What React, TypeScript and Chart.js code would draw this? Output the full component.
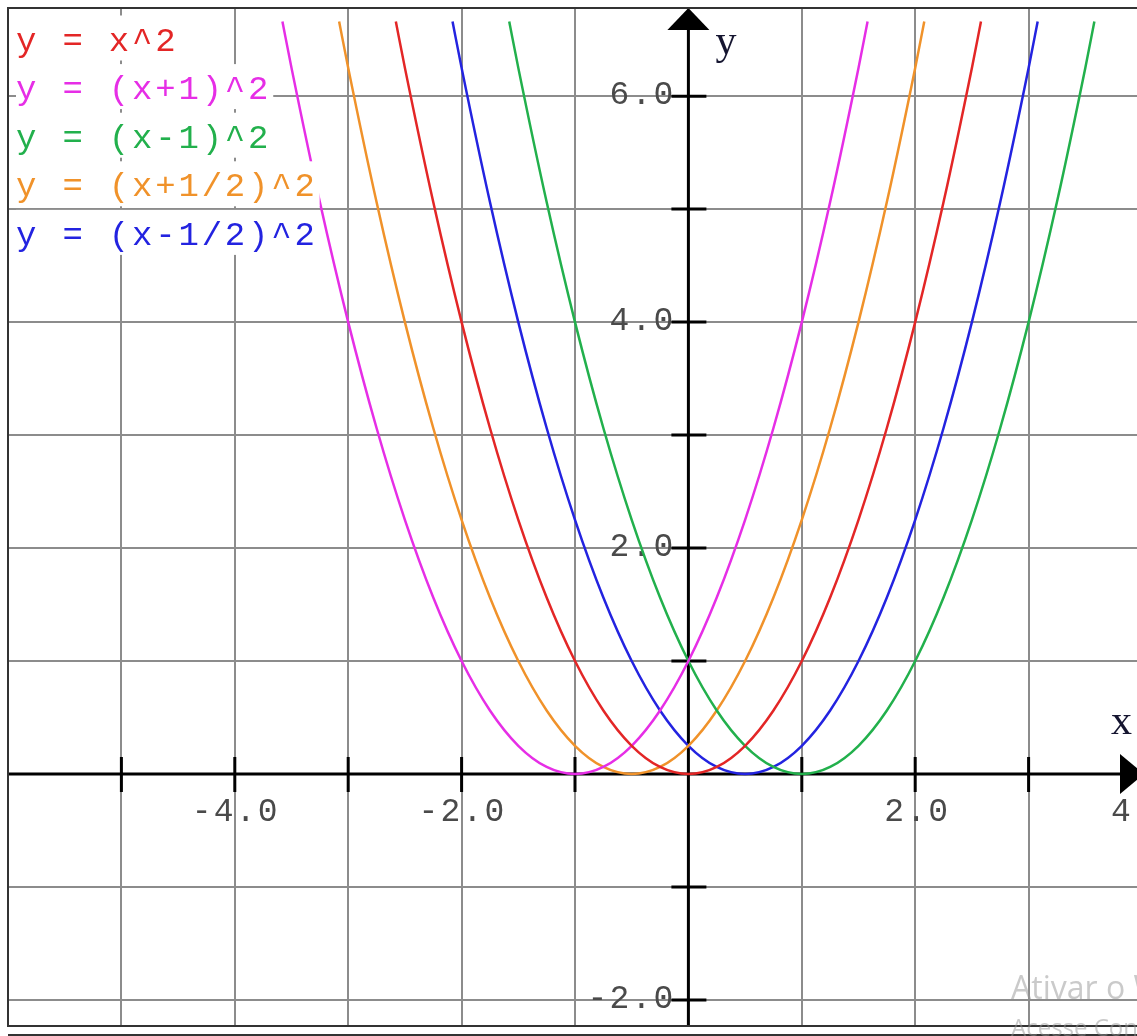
import { useEffect, useRef } from "react";
import { Chart, registerables } from "chart.js";

Chart.register(...registerables);

// Five parabolas y = (x - h)^2, each traced from the same table of offsets
// around its vertex h.
const seriesLabels = ["y = x^2", "y = (x+1)^2", "y = (x-1)^2", "y = (x+1/2)^2", "y = (x-1/2)^2"];
const seriesVertexX = [0, -1, 1, -0.5, 0.5];
const seriesColors = ["#e32626", "#e62ee6", "#22b04c", "#f0922a", "#2323e0"];

const offsetsFromVertex = [
  -2.58, -2.5, -2.25, -2, -1.75, -1.5, -1.25, -1, -0.75, -0.5, -0.25, 0,
  0.25, 0.5, 0.75, 1, 1.25, 1.5, 1.75, 2, 2.25, 2.5, 2.58,
];
const squaredValues = [
  6.66, 6.25, 5.0625, 4, 3.0625, 2.25, 1.5625, 1, 0.5625, 0.25, 0.0625, 0,
  0.0625, 0.25, 0.5625, 1, 1.5625, 2.25, 3.0625, 4, 5.0625, 6.25, 6.66,
];

// View window and grid
const xMin = -6;
const xMax = 4;
const yMin = -2.23;
const yMax = 6.78;
const xGridValues = [-6, -5, -4, -3, -2, -1, 0, 1, 2, 3, 4];
const yGridValues = [-2, -1, 0, 1, 2, 3, 4, 5, 6];
const xTickMarks = [-5, -4, -3, -2, -1, 1, 2, 3];
const yTickMarks = [-2, -1, 1, 2, 3, 4, 5, 6];
const xTickValues = [-4, -2, 2, 4];
const xTickLabels = ["-4.0", "-2.0", " 2.0", " 4.0"];
const yTickValues = [-2, 2, 4, 6];
const yTickLabels = ["-2.0", " 2.0", " 4.0", " 6.0"];

const MONO = '"Liberation Mono", "Courier New", monospace';
const SERIF = '"Liberation Serif", "Times New Roman", serif';

const axesPlugin = {
  id: "axesPlugin",
  beforeDatasetsDraw(chart: any) {
    const { ctx, chartArea } = chart;
    const xs = chart.scales.x;
    const ys = chart.scales.y;
    const x0 = xs.getPixelForValue(0);
    const y0 = ys.getPixelForValue(0);
    ctx.save();
    ctx.strokeStyle = "#000";
    ctx.fillStyle = "#000";
    ctx.lineWidth = 3;
    ctx.beginPath();
    ctx.moveTo(chartArea.left, y0);
    ctx.lineTo(chartArea.right - 18, y0);
    ctx.moveTo(x0, chartArea.bottom);
    ctx.lineTo(x0, chartArea.top + 18);
    ctx.stroke();

    // tick marks
    ctx.beginPath();
    for (const v of xTickMarks) {
      const px = xs.getPixelForValue(v);
      ctx.moveTo(px, y0 - 17);
      ctx.lineTo(px, y0 + 18);
    }
    for (const v of yTickMarks) {
      const py = ys.getPixelForValue(v);
      ctx.moveTo(x0 - 17, py);
      ctx.lineTo(x0 + 18, py);
    }
    ctx.stroke();

    // arrow heads
    ctx.beginPath();
    ctx.moveTo(x0, chartArea.top);
    ctx.lineTo(x0 - 21, chartArea.top + 22);
    ctx.lineTo(x0 + 21, chartArea.top + 22);
    ctx.closePath();
    ctx.fill();
    ctx.beginPath();
    ctx.moveTo(chartArea.right + 2, y0);
    ctx.lineTo(chartArea.right - 22, y0 - 20);
    ctx.lineTo(chartArea.right - 22, y0 + 20);
    ctx.closePath();
    ctx.fill();

    // tick labels
    ctx.fillStyle = "#4a4a4a";
    ctx.font = `33px ${MONO}`;
    ctx.letterSpacing = "2.2px";
    ctx.textAlign = "center";
    ctx.textBaseline = "middle";
    xTickValues.forEach((v, i) => {
      const shift = v > 0 ? -9 : 1;
      ctx.fillText(xTickLabels[i], xs.getPixelForValue(v) + shift, y0 + 38);
    });
    ctx.textAlign = "right";
    yTickValues.forEach((v, i) => {
      ctx.fillText(yTickLabels[i], x0 - 13, ys.getPixelForValue(v) - 1);
    });
    ctx.restore();
  },
  afterDatasetsDraw(chart: any) {
    const { ctx, chartArea } = chart;
    const xs = chart.scales.x;
    const ys = chart.scales.y;
    const x0 = xs.getPixelForValue(0);
    const y0 = ys.getPixelForValue(0);
    ctx.save();

    // axis names
    ctx.fillStyle = "#151530";
    ctx.font = `42px ${SERIF}`;
    ctx.textAlign = "left";
    ctx.textBaseline = "alphabetic";
    ctx.fillText("y", x0 + 27, chartArea.top + 46);
    ctx.fillText("x", chartArea.right - 31, y0 - 40);

    // legend rows with white backing behind each entry
    ctx.font = `34px ${MONO}`;
    ctx.letterSpacing = "2.8px";
    ctx.textBaseline = "middle";
    seriesLabels.forEach((label, i) => {
      const cy = 40.5 + i * 48.6;
      const w = ctx.measureText(label).width;
      ctx.fillStyle = "#ffffff";
      ctx.fillRect(16, cy - 25, w + 2, 45);
      ctx.fillStyle = seriesColors[i];
      ctx.fillText(label, 16, cy + 1);
    });
    ctx.letterSpacing = "0px";

    // frame
    ctx.strokeStyle = "#333";
    ctx.lineWidth = 2;
    ctx.strokeRect(chartArea.left, chartArea.top, chartArea.right - chartArea.left, chartArea.bottom - chartArea.top);
    ctx.beginPath();
    ctx.moveTo(chartArea.left, 1035);
    ctx.lineTo(chartArea.right + 10, 1035);
    ctx.stroke();

    // system watermark
    ctx.fillStyle = "rgba(150,150,150,0.5)";
    ctx.font = `32px "Open Sans", "Noto Sans", sans-serif`;
    ctx.textBaseline = "alphabetic";
    ctx.fillText("Ativar o Windows", 1011, 999);
    ctx.font = `24px "Open Sans", "Noto Sans", sans-serif`;
    ctx.fillText("Acesse Configurações para ativar o Windows.", 1011, 1036);
    ctx.restore();
  },
};

export default function App() {
  const canvasRef = useRef<HTMLCanvasElement | null>(null);

  useEffect(() => {
    const canvas = canvasRef.current;
    if (!canvas) return;
    const datasets = seriesLabels.map((label, i) => ({
      label,
      data: offsetsFromVertex.map((d, k) => ({ x: seriesVertexX[i] + d, y: squaredValues[k] })),
      borderColor: seriesColors[i],
      backgroundColor: seriesColors[i],
      borderWidth: 2.5,
      pointRadius: 0,
      showLine: true,
      fill: false,
      cubicInterpolationMode: "monotone" as const,
    }));

    const chart = new Chart(canvas, {
      type: "scatter",
      data: { datasets },
      options: {
        animation: false,
        responsive: false,
        devicePixelRatio: 1,
        events: [],
        layout: { padding: { left: 8, top: 8, right: 8, bottom: 10 } },
        plugins: { legend: { display: false }, tooltip: { enabled: false }, title: { display: false } },
        scales: {
          x: {
            type: "linear",
            min: xMin,
            max: xMax,
            afterBuildTicks: (scale: any) => {
              scale.ticks = xGridValues.map((v) => ({ value: v }));
            },
            ticks: { display: false },
            border: { display: false },
            grid: { color: "#8c8c8c", lineWidth: 2, drawTicks: false },
          },
          y: {
            type: "linear",
            min: yMin,
            max: yMax,
            afterBuildTicks: (scale: any) => {
              scale.ticks = yGridValues.map((v) => ({ value: v }));
            },
            ticks: { display: false },
            border: { display: false },
            grid: { color: "#8c8c8c", lineWidth: 2, drawTicks: false },
          },
        },
      },
      plugins: [axesPlugin],
    });
    return () => chart.destroy();
  }, []);

  return (
    <div
      style={{
        position: "absolute",
        left: 0,
        top: 0,
        width: 1137,
        height: 1036,
        overflow: "hidden",
        background: "#fff",
      }}
    >
      <canvas ref={canvasRef} width={1150} height={1036} style={{ display: "block" }} />
    </div>
  );
}
